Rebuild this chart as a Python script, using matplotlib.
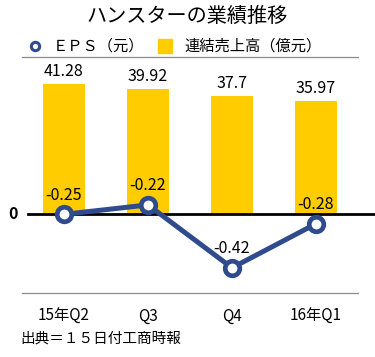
import matplotlib
matplotlib.use("Agg")
import matplotlib.pyplot as plt
from matplotlib.lines import Line2D
from matplotlib.patches import Rectangle
import numpy as np

plt.rcParams["font.family"] = ["Noto Sans CJK JP", "DejaVu Sans"]

# ── Data ──────────────────────────────────────────
quarters = ["15年Q2", "Q3", "Q4", "16年Q1"]
sales = [41.28, 39.92, 37.7, 35.97]      # 連結売上高（億元）
eps = [-0.25, -0.22, -0.42, -0.28]       # EPS（元）
sales_labels = ["41.28", "39.92", "37.7", "35.97"]
eps_labels = ["-0.25", "-0.22", "-0.42", "-0.28"]

# ── Style ─────────────────────────────────────────
YELLOW = "#FFCC00"
NAVY = "#2F4B8E"
GRAY = "#8A8A8A"

W, H = 375, 357
fig = plt.figure(figsize=(W / 100, H / 100), dpi=100)

x0, x1, y0, y1 = 22, 358, 57, 293
ax = fig.add_axes([x0 / W, 1 - y1 / H, (x1 - x0) / W, (y1 - y0) / H])
x = np.arange(len(quarters))

ax.bar(x, sales, width=0.51, color=YELLOW, zorder=2)
for xi, v, lab in zip(x, sales, sales_labels):
    ax.annotate(lab, (xi, v), xytext=(0, 3), textcoords="offset points",
                ha="center", va="bottom", fontsize=11.5)

ax.set_xlim(-0.5, len(quarters) - 0.5)
ax.set_ylim(-25, 50)
ax.set_xticks(x)
ax.set_xticklabels(quarters, fontsize=11)
ax.tick_params(axis="x", length=0, pad=11)
ax.set_yticks([])
for s in ["left", "right"]:
    ax.spines[s].set_visible(False)
for s in ["top", "bottom"]:
    ax.spines[s].set_color(GRAY)
    ax.spines[s].set_linewidth(0.9)

# zero line, extends past the right edge
ax.axhline(0, xmin=(28 - x0) / (x1 - x0), xmax=(W - x0) / (x1 - x0),
           color="black", linewidth=2, clip_on=False, zorder=3)
ax.text(-0.5, 0, "0 ", ha="right", va="center", fontsize=11.5, fontweight="bold")

# EPS on its own scale
ax2 = ax.twinx()
ax2.set_ylim(-0.5, 0.25)
ax2.axis("off")
ax2.plot(x, eps, color=NAVY, linewidth=3.6, marker="o", markersize=10.5,
         markerfacecolor="white", markeredgecolor=NAVY, markeredgewidth=3.4,
         zorder=4)
for xi, v, lab in zip(x, eps, eps_labels):
    ax2.annotate(lab, (xi, v), xytext=(0, 7.5), textcoords="offset points",
                 ha="center", va="bottom", fontsize=11.5)

# title
fig.text(0.5, 1 - 16 / H, "ハンスターの業績推移", ha="center", va="center",
         fontsize=14.5)

# legend
fig.add_artist(Line2D([35 / W], [1 - 46 / H], marker="o", markersize=6,
                      markerfacecolor="white", markeredgecolor=NAVY,
                      markeredgewidth=2.2, transform=fig.transFigure))
fig.text(53 / W, 1 - 46 / H, "ＥＰＳ（元）", ha="left", va="center", fontsize=11)
fig.add_artist(Rectangle((158 / W, 1 - 53 / H), 14 / W, 14 / H,
                         color=YELLOW, transform=fig.transFigure))
fig.text(184 / W, 1 - 46 / H, "連結売上高（億元）", ha="left", va="center",
         fontsize=11)

# source
fig.text(20 / W, 1 - 339 / H, "出典＝１５日付工商時報", ha="left", va="center",
         fontsize=10.5)

fig.savefig("out.png", dpi=100)
